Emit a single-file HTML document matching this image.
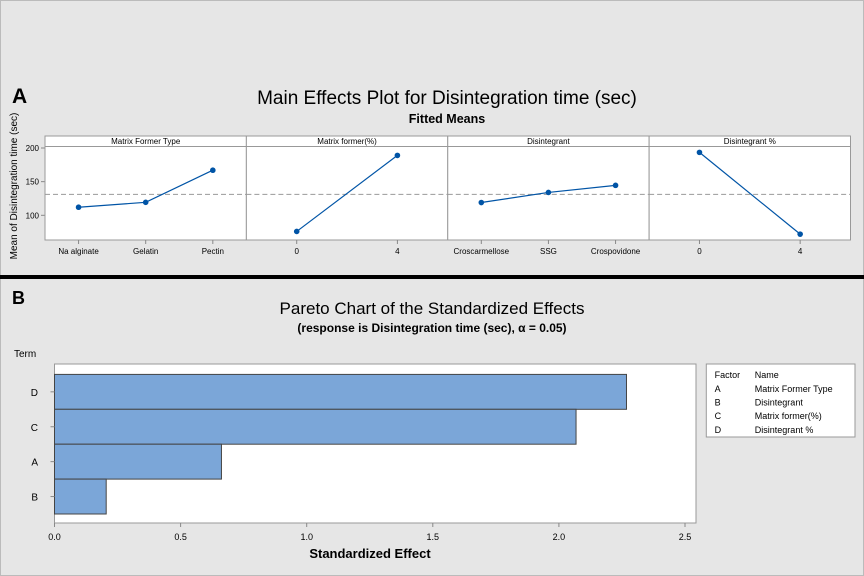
<!DOCTYPE html>
<html><head><meta charset="utf-8"><style>
html,body{margin:0;padding:0;background:#e6e6e6}
svg{display:block;font-family:"Liberation Sans",sans-serif}
</style></head><body>
<svg width="864" height="576" viewBox="0 0 864 576">
<rect x="0.5" y="0.5" width="863" height="575" fill="#e6e6e6" stroke="#bbb"/>
<g id="topG"></g>
<rect x="0" y="275" width="864" height="4" fill="#000"/>
<g id="botG"></g>
</svg>
<script>
// ---- Main effects data ----
const panelTitles = ["Matrix Former Type","Matrix former(%)","Disintegrant","Disintegrant %"];
const panelLevels = [["Na alginate","Gelatin","Pectin"],["0","4"],["Croscarmellose","SSG","Crospovidone"],["0","4"]];
const panelMeans = [[112,119.3,167],[76,189],[119,134,144.5],[193.5,72]];
const overallMean = 131;
const yTicks = [100,150,200];
// ---- Pareto data ----
const terms = ["D","C","A","B"];
const effects = [2.268,2.068,0.662,0.205];
const xTicks = [0,0.5,1.0,1.5,2.0,2.5];
const legendFactors = ["A","B","C","D"];
const legendNames = ["Matrix Former Type","Disintegrant","Matrix former(%)","Disintegrant %"];

const NS="http://www.w3.org/2000/svg";
function mk(parent,tag,attrs,text){const e=document.createElementNS(NS,tag);for(const k in attrs)e.setAttribute(k,attrs[k]);if(text!==undefined)e.textContent=text;parent.appendChild(e);return e;}

// ===== Top =====
const topG=document.getElementById('topG');
let t;
t=mk(topG,'text',{x:12,y:103,'font-size':21,'font-weight':'bold'},'A');


t=mk(topG,'text',{x:447,y:104,'font-size':19,'text-anchor':'middle'},'Main Effects Plot for Disintegration time (sec)');


t=mk(topG,'text',{x:447,y:123,'font-size':12.5,'font-weight':'bold','text-anchor':'middle'},'Fitted Means');


t=mk(topG,'text',{x:0,y:0,'font-size':10,'text-anchor':'middle',transform:'translate(17,186) rotate(-90)'},'Mean of Disintegration time (sec)');



const pL=45,pR=850.5,pTop=136,stripB=146.5,pBot=240;
const yv=v=>215.3-(v-100)*0.673;
const pw=(pR-pL)/4;
yTicks.forEach(v=>{
  const y=yv(v);
  const l=mk(topG,'line',{x1:pL-4,x2:pL,y1:y,y2:y,stroke:'#888'});
  
  
  const tx=mk(topG,'text',{x:pL-6,y:y+3,'font-size':8,'text-anchor':'end'},String(v));
  
  
});
panelTitles.forEach((title,i)=>{
  const x0=pL+i*pw;
  const g=mk(topG,'g',{});
  
  
  const r=mk(g,'rect',{x:x0,y:pTop,width:pw,height:pBot-pTop,fill:'#fff',stroke:'#999'});
  
  
  const s=mk(g,'line',{x1:x0,x2:x0+pw,y1:stripB,y2:stripB,stroke:'#999'});
  
  
  const st=mk(g,'text',{x:x0+pw/2,y:144,'font-size':8,'text-anchor':'middle'},title);
  
  
  const ml=mk(g,'line',{x1:x0,x2:x0+pw,y1:yv(overallMean),y2:yv(overallMean),stroke:'#999','stroke-dasharray':'5,3'});
  
  
  const lv=panelLevels[i],n=lv.length;
  const xs=lv.map((_,j)=> n===3? x0+pw*(2*j+1)/6 : x0+pw*(j===0?0.25:0.75));
  const pts=xs.map((x,j)=>x+','+yv(panelMeans[i][j])).join(' ');
  const pl=mk(g,'polyline',{points:pts,fill:'none',stroke:'#0054a6','stroke-width':1.2});
  
  
  xs.forEach((x,j)=>{
    const c=mk(g,'circle',{cx:x,cy:yv(panelMeans[i][j]),r:2.8,fill:'#0054a6'});
    
    
    const tk=mk(g,'line',{x1:x,x2:x,y1:pBot,y2:pBot+4,stroke:'#888'});
    
    
    const tl=mk(g,'text',{x:x,y:254,'font-size':8,'text-anchor':'middle'},lv[j]);
    
    
  });
});

// ===== Bottom =====
const botG=document.getElementById('botG');
t=mk(botG,'text',{x:12,y:304,'font-size':18,'font-weight':'bold'},'B');


t=mk(botG,'text',{x:432,y:314,'font-size':17,'text-anchor':'middle'},'Pareto Chart of the Standardized Effects');


t=mk(botG,'text',{x:432,y:332,'font-size':12,'font-weight':'bold','text-anchor':'middle'},'(response is Disintegration time (sec), α = 0.05)');


t=mk(botG,'text',{x:14,y:357,'font-size':10},'Term');


const bL=54.5,bR=696,bT=364,bB=523;
const xv=v=>bL+v*252.2;
const r0=mk(botG,'rect',{x:bL,y:bT,width:bR-bL,height:bB-bT,fill:'#fff',stroke:'#999'});


const bh=34.9,b0=374.4;
terms.forEach((term,i)=>{
  const y=b0+i*bh;
  const b=mk(botG,'rect',{x:bL,y:y,width:xv(effects[i])-bL,height:bh,fill:'#7ba6d8',stroke:'#444','stroke-width':1});
  
  
  const tk=mk(botG,'line',{x1:bL-4,x2:bL,y1:y+bh/2,y2:y+bh/2,stroke:'#888'});
  
  
  const tl=mk(botG,'text',{x:38,y:y+bh/2+4,'font-size':10,'text-anchor':'end'},term);
  
  
});
xTicks.forEach(v=>{
  const x=xv(v);
  const tk=mk(botG,'line',{x1:x,x2:x,y1:bB,y2:bB+4,stroke:'#888'});
  
  
  const tl=mk(botG,'text',{x:x,y:540,'font-size':9,'text-anchor':'middle'},v.toFixed(1));
  
  
});
t=mk(botG,'text',{x:370,y:558,'font-size':13,'font-weight':'bold','text-anchor':'middle'},'Standardized Effect');


const lg=mk(botG,'g',{});


const lr=mk(lg,'rect',{x:706.3,y:364,width:148.7,height:73,fill:'#fff',stroke:'#999'});


t=mk(lg,'text',{x:714.6,y:378,'font-size':9},'Factor');


t=mk(lg,'text',{x:754.8,y:378,'font-size':9},'Name');


legendFactors.forEach((f,i)=>{
  const y=392+i*13.6;
  const a=mk(lg,'text',{x:714.6,y:y,'font-size':9},f);
  
  
  const b=mk(lg,'text',{x:754.8,y:y,'font-size':9},legendNames[i]);
  
  
});
</script>
</body></html>
